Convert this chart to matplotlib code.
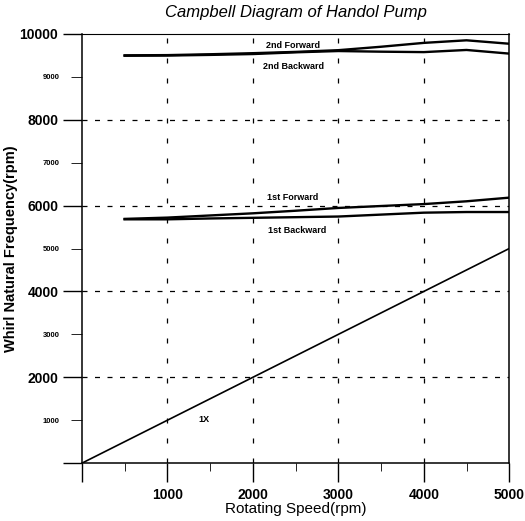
import numpy as np
import matplotlib.pyplot as plt
from matplotlib.ticker import MultipleLocator, FixedLocator, FixedFormatter

plt.rcParams['font.family'] = ['Liberation Sans', 'DejaVu Sans']

speed = [500, 1000, 1500, 2000, 2500, 3000, 3500, 4000, 4500, 5000]
fwd2 = [9500, 9505, 9525, 9550, 9580, 9620, 9700, 9790, 9850, 9770]
bwd2 = [9490, 9495, 9510, 9530, 9570, 9600, 9585, 9575, 9625, 9540]
fwd1 = [5690, 5720, 5770, 5820, 5880, 5945, 5990, 6035, 6100, 6185]
bwd1 = [5680, 5680, 5700, 5715, 5730, 5745, 5790, 5835, 5850, 5850]
onex_speed = [0, 5000]
onex_freq = [0, 5000]

x_major = [0, 1000, 2000, 3000, 4000, 5000]
x_labels = ['', '1000', '2000', '3000', '4000', '5000']
y_major = [0, 2000, 4000, 6000, 8000, 10000]
y_labels = ['', '2000', '4000', '6000', '8000', '10000']
y_minor = [1000, 3000, 5000, 7000, 9000]
y_minor_labels = ['1000', '3000', '5000', '7000', '9000']

labels = [
    ('2nd Forward', 2470, 9740),
    ('2nd Backward', 2470, 9250),
    ('1st Forward', 2470, 6190),
    ('1st Backward', 2520, 5420),
    ('1X', 1430, 1020),
]

fig = plt.figure(figsize=(5.25, 5.21), dpi=100)
ax = fig.add_axes([0.156, 0.111, 0.814, 0.824])

ax.plot(speed, fwd2, color='black', lw=1.7)
ax.plot(speed, bwd2, color='black', lw=1.7)
ax.plot(speed, fwd1, color='black', lw=1.7)
ax.plot(speed, bwd1, color='black', lw=1.7)
ax.plot(onex_speed, onex_freq, color='black', lw=1.2)

for txt, x, y in labels:
    ax.text(x, y, txt, fontsize=6.5, fontweight='bold', ha='center', va='center')

ax.set_xlim(0, 5000)
ax.set_ylim(0, 10000)

ax.xaxis.set_major_locator(FixedLocator(x_major))
ax.xaxis.set_major_formatter(FixedFormatter(x_labels))
ax.xaxis.set_minor_locator(MultipleLocator(500))
ax.yaxis.set_major_locator(FixedLocator(y_major))
ax.yaxis.set_major_formatter(FixedFormatter(y_labels))
ax.yaxis.set_minor_locator(FixedLocator(y_minor))
ax.yaxis.set_minor_formatter(FixedFormatter(y_minor_labels))

ax.tick_params(axis='both', which='major', direction='out', length=14, width=1)
ax.tick_params(axis='x', which='major', labelsize=10, pad=4)
ax.tick_params(axis='y', which='major', labelsize=10, pad=3)
ax.tick_params(axis='x', which='minor', direction='out', length=6)
ax.tick_params(axis='y', which='minor', direction='out', length=8, labelsize=5.5, pad=8)
for lab in ax.get_xticklabels() + ax.get_yticklabels() + ax.get_yticklabels(minor=True):
    lab.set_fontweight('bold')

for xv in [1000, 2000, 3000, 4000]:
    ax.axvline(xv, color='black', lw=0.9, ls=(0, (4, 12)))
for yv in [2000, 4000, 6000, 8000]:
    ax.axhline(yv, color='black', lw=0.9, ls=(0, (4, 6)))

for sp in ax.spines.values():
    sp.set_linewidth(1.1)
ax.spines['top'].set_linewidth(0.8)

ax.set_title('Campbell Diagram of Handol Pump', fontsize=12, style='italic', pad=12)
ax.set_xlabel('Rotating Speed(rpm)', fontsize=11, labelpad=0)
ax.set_ylabel('Whirl Natural Frequency(rpm)', fontsize=10.5, fontweight='bold', labelpad=1)

fig.savefig('out.png', dpi=100)
